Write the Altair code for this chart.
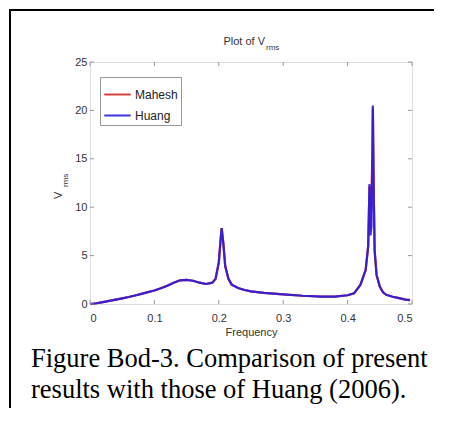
import altair as alt
import pandas as pd

freq = [0.0, 0.01, 0.02, 0.03, 0.04, 0.05, 0.06, 0.07, 0.08, 0.09, 0.10, 0.11, 0.12, 0.13,
        0.14, 0.15, 0.16, 0.17, 0.18, 0.19, 0.195, 0.2, 0.203, 0.2045, 0.207, 0.21, 0.215,
        0.22, 0.23, 0.24, 0.25, 0.27, 0.3, 0.33, 0.36, 0.38, 0.4, 0.41, 0.42, 0.428, 0.432,
        0.434, 0.4355, 0.437, 0.4385, 0.4392, 0.4405, 0.442, 0.445, 0.45, 0.455, 0.46, 0.47,
        0.48, 0.49, 0.497]
huang = [0.0, 0.08, 0.2, 0.32, 0.45, 0.58, 0.72, 0.88, 1.05, 1.22, 1.4, 1.62, 1.88, 2.2,
         2.45, 2.5, 2.4, 2.2, 2.07, 2.2, 2.6, 4.3, 6.8, 7.85, 6.3, 3.9, 2.6,
         2.0, 1.65, 1.45, 1.3, 1.15, 1.0, 0.85, 0.76, 0.76, 0.9, 1.1, 2.0, 3.5, 6.0,
         12.4, 7.1, 8.0, 15.0, 20.5, 12.0, 5.5, 3.0, 1.8, 1.2, 0.95, 0.75,
         0.6, 0.45, 0.4]
mahesh = [0.0, 0.08, 0.2, 0.32, 0.45, 0.58, 0.72, 0.88, 1.05, 1.22, 1.4, 1.62, 1.88, 2.2,
          2.45, 2.5, 2.4, 2.2, 2.07, 2.2, 2.6, 4.3, 6.8, 7.85, 6.3, 3.9, 2.6,
          2.0, 1.65, 1.45, 1.3, 1.15, 1.0, 0.85, 0.76, 0.76, 0.9, 1.1, 2.0, 3.5, 6.0,
          12.2, 7.6, 11.0, 15.5, 20.3, 12.0, 5.5, 3.0, 1.8, 1.2, 0.95, 0.75,
          0.6, 0.45, 0.4]
series_names = ["Mahesh", "Huang"]
series_colors = ["#d42a2a", "#2a1ee0"]
x_ticks = [0.0, 0.1, 0.2, 0.3, 0.4, 0.5]
y_ticks = [0, 5, 10, 15, 20, 25]

rows = []
for f, v in zip(freq, mahesh):
    rows.append({"Frequency": f, "V": v, "series": "Mahesh"})
for f, v in zip(freq, huang):
    rows.append({"Frequency": f, "V": v, "series": "Huang"})
df = pd.DataFrame(rows)

xs = alt.Scale(domain=[0, 0.5], nice=False)
ys = alt.Scale(domain=[0, 25], nice=False)
color = alt.Color("series:N", scale=alt.Scale(domain=series_names, range=series_colors),
                  legend=alt.Legend(title=None, orient="none", legendX=10, legendY=15,
                                    symbolType="stroke", symbolSize=700, symbolStrokeWidth=2,
                                    labelFontSize=12, labelFont="Liberation Sans", labelColor="#222",
                                    strokeColor="#999", fillColor="white", padding=3,
                                    rowPadding=-6, labelOffset=3))

xaxis = alt.Axis(values=x_ticks, format=".1~f", grid=False, domain=False, ticks=False,
                 labelFont="Liberation Sans", labelFontSize=11, labelColor="#333",
                 labelPadding=8, title="Frequency", titleFont="Liberation Sans",
                 titleFontSize=11, titleFontWeight="normal", titleColor="#333", titlePadding=3)
yaxis = alt.Axis(values=y_ticks, grid=False, domain=False, ticks=False,
                 labelFont="Liberation Sans", labelFontSize=11, labelColor="#333",
                 labelPadding=3, title=None)

base = alt.Chart(df)
red = base.transform_filter(alt.datum.series == "Mahesh").mark_line(strokeWidth=2.2).encode(
    x=alt.X("Frequency:Q", scale=xs, axis=xaxis),
    y=alt.Y("V:Q", scale=ys, axis=yaxis),
    color=color,
)
blue = base.transform_filter(alt.datum.series == "Huang").mark_line(strokeWidth=2.2, opacity=0.9).encode(
    x=alt.X("Frequency:Q", scale=xs),
    y=alt.Y("V:Q", scale=ys),
    color=color,
)

xt = pd.DataFrame({"t": x_ticks})
yt = pd.DataFrame({"t": y_ticks})
tick_style = dict(color="#999", strokeWidth=1)
xt_bot = alt.Chart(xt).mark_rule(**tick_style).encode(x=alt.X("t:Q", scale=xs), y=alt.value(238), y2=alt.value(242))
xt_top = alt.Chart(xt).mark_rule(**tick_style).encode(x=alt.X("t:Q", scale=xs), y=alt.value(0), y2=alt.value(4))
yt_left = alt.Chart(yt).mark_rule(**tick_style).encode(y=alt.Y("t:Q", scale=ys), x=alt.value(0), x2=alt.value(4))
yt_right = alt.Chart(yt).mark_rule(**tick_style).encode(y=alt.Y("t:Q", scale=ys), x=alt.value(318), x2=alt.value(322))

one = pd.DataFrame({"a": [0]})
border = alt.Chart(one).mark_rect(fill=None, stroke="black", strokeWidth=2).encode(
    x=alt.value(-80), x2=alt.value(420), y=alt.value(-52), y2=alt.value(420))

def label(text, x, y, size, font="Liberation Sans", angle=0, align="left", color="#333"):
    return alt.Chart(pd.DataFrame({"txt": [text]})).mark_text(
        font=font, fontSize=size, align=align, baseline="alphabetic", angle=angle, color=color
    ).encode(text="txt:N", x=alt.value(x), y=alt.value(y))

title1 = label("Plot of V", 175, -17, 11, align="right")
title2 = label("rms", 176, -12, 8)
ytitle1 = label("V", -28, 137, 11, angle=270)
ytitle2 = label("rms", -22, 125, 8, angle=270)
cap1 = label("Figure Bod-3. Comparison of present", -59, 304.7, 26.5, font="Liberation Serif", color="black")
cap2 = label("results with those of Huang (2006).", -59, 335.7, 26.5, font="Liberation Serif", color="black")

chart = alt.layer(
    red, blue, xt_bot, xt_top, yt_left, yt_right, border,
    title1, title2, ytitle1, ytitle2, cap1, cap2,
).properties(
    width=322, height=242,
    autosize=alt.AutoSizeParams(type="none"),
    padding={"left": 82, "top": 54, "right": 22, "bottom": 104},
).configure_view(stroke="#9a9a9a", strokeWidth=1).configure(background="white")

chart.save("out.html", embed_options={"renderer": "svg", "actions": False})
